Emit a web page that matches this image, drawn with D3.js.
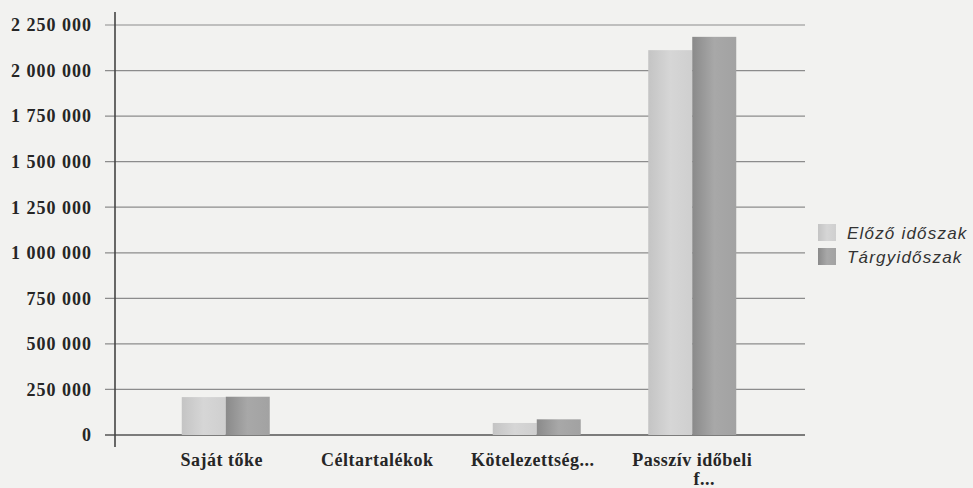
<!DOCTYPE html>
<html>
<head>
<meta charset="utf-8">
<script src="https://cdn.jsdelivr.net/npm/d3@7"></script>
<style>
  body { margin: 0; background: #f2f2f0; }
  svg { display: block; }
</style>
</head>
<body>
<svg id="chart" width="973" height="488"></svg>
<script>
// data
const categories = ["Saját tőke", "Céltartalékok", "Kötelezettség...", "Passzív időbeli f..."]
const seriesNames = ["Előző időszak", "Tárgyidőszak"]
const elozo = [208000, 0, 66000, 2112000]
const targy = [210000, 0, 86000, 2185000]
const yTicks = [0, 250000, 500000, 750000, 1000000, 1250000, 1500000, 1750000, 2000000, 2250000]

const svg = d3.select("#chart")
const fmt = d3.formatLocale({decimal: ",", thousands: " ", grouping: [3], currency: ["", ""]}).format(",d")

const y = d3.scaleLinear().domain([0, 2250000]).range([435, 25])
const x = d3.scaleBand().domain(categories).range([148, 770])
const xs = d3.scaleBand().domain(seriesNames).range([0, 88])

const defs = svg.append("defs")
function grad(id, c1, c2, c3) {
    const g = defs.append("linearGradient").attr("id", id).attr("x1", 0).attr("x2", 1)
    g.append("stop").attr("offset", 0).attr("stop-color", c1)
    g.append("stop").attr("offset", 0.5).attr("stop-color", c2)
    g.append("stop").attr("offset", 1).attr("stop-color", c3)
}
grad("g0", "#c4c4c4", "#d6d6d6", "#cfcfcf")
grad("g1", "#8a8a8a", "#a8a8a8", "#a2a2a2")
const fills = ["url(#g0)", "url(#g1)"]

const labelFont = "bold 18px 'Liberation Serif', serif"

// gridlines
svg.append("g")
    .selectAll("line")
    .data(yTicks)
    .join("line")
    .attr("x1", 105).attr("x2", 805)
    .attr("y1", d => y(d)).attr("y2", d => y(d))
    .attr("stroke", d => d == 0 ? "#555" : "#8c8c8c")
    .attr("stroke-width", d => d == 0 ? 1.6 : 1.2)

// y axis labels
svg.append("g")
    .selectAll("text")
    .data(yTicks)
    .join("text")
    .attr("x", 92)
    .attr("y", d => y(d))
    .attr("dy", "0.35em")
    .attr("text-anchor", "end")
    .style("font", labelFont)
    .style("letter-spacing", "1px")
    .attr("fill", "#262626")
    .text(d => fmt(d))

// bars
const rows = categories.map((c, i) => ({cat: c, vals: [elozo[i], targy[i]]}))
const grp = svg.append("g")
    .selectAll("g")
    .data(rows)
    .join("g")
    .attr("transform", d => `translate(${x(d.cat) + (x.bandwidth() - 88) / 2},0)`)

grp.selectAll("rect")
    .data(d => d.vals.map((v, k) => ({v: v, k: k})))
    .join("rect")
    .attr("x", d => xs(seriesNames[d.k]))
    .attr("width", xs.bandwidth())
    .attr("y", d => y(d.v))
    .attr("height", d => y(0) - y(d.v))
    .attr("fill", d => fills[d.k])

// y axis line
svg.append("line")
    .attr("x1", 115).attr("x2", 115)
    .attr("y1", 12).attr("y2", 447)
    .attr("stroke", "#444").attr("stroke-width", 1.6)

// x labels (the last one wraps onto a second line, as in the original)
const xl = svg.append("g")
    .selectAll("g")
    .data(categories)
    .join("g")
xl.each(function (d) {
    const g = d3.select(this)
    const cx = x(d) + x.bandwidth() / 2
    const lines = d.startsWith("Passzív") ? [["Passzív időbeli", cx], ["f...", cx + 12]] : [[d, cx - 4]]
    lines.forEach((l, i) => {
        g.append("text")
            .attr("x", l[1])
            .attr("y", 466 + i * 19)
            .attr("text-anchor", "middle")
            .style("font", labelFont)
            .style("letter-spacing", "0.5px")
            .attr("fill", "#262626")
            .text(l[0])
    })
})

// legend
const lg = svg.append("g")
    .selectAll("g")
    .data(seriesNames)
    .join("g")
    .attr("transform", (d, i) => `translate(818,${224 + i * 24})`)
lg.append("rect")
    .attr("width", 18).attr("height", 17)
    .attr("fill", (d, i) => fills[i])
lg.append("text")
    .attr("x", 29).attr("y", 9).attr("dy", "0.35em")
    .style("font", "italic 17px 'Liberation Sans', Arial, sans-serif")
    .style("letter-spacing", "1.2px")
    .attr("fill", "#333")
    .text(d => d)
</script>
</body>
</html>
